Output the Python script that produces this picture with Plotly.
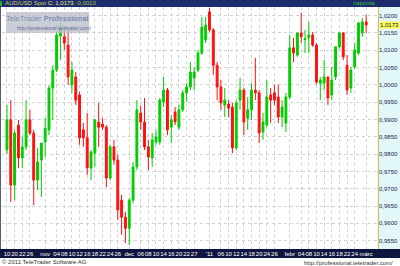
import plotly.graph_objects as go

# ---- data (AUD/USD daily, index = trading day) ----
open_ = [0.9812,0.9899,0.9711,0.9884,0.9789,0.9821,0.9899,0.9861,0.9725,0.9783,
         0.9835,0.9870,0.9991,1.0043,1.0141,1.0139,1.0115,1.0000,1.0023,0.9971,
         0.9870,0.9847,0.9760,0.9803,0.9893,0.9887,0.9878,0.9731,0.9821,0.9783,
         0.9667,0.9618,0.9586,0.9667,0.9763,0.9919,0.9893,0.9821,0.9789,0.9835,
         0.9835,0.9951,0.9985,0.9878,0.9922,0.9878,0.9928,0.9977,0.9994,1.0020,
         1.0043,1.0092,1.0130,1.0211,1.0159,1.0057,0.9994,0.9942,0.9945,0.9936,
         0.9818,0.9956,0.9985,0.9904,0.9928,0.9985,0.9977,0.9864,0.9884,0.9971,
         0.9977,0.9965,0.9907,0.9890,0.9965,1.0107,1.0086,1.0150,1.0131,1.0136,
         1.0144,1.0115,1.0005,1.0005,1.0023,0.9971,1.0023,1.0110,1.0150,1.0057,
         0.9991,1.0052,1.0092,1.0150,1.0182]
high = [0.9942,0.9956,0.9870,0.9899,0.9850,0.9956,0.9928,0.9870,0.9818,0.9832,
        0.9904,1.0000,1.0057,1.0153,1.0182,1.0159,1.0159,1.0066,1.0037,0.9980,
        0.9890,0.9919,0.9812,0.9899,0.9948,0.9904,0.9884,0.9827,0.9841,0.9798,
        0.9682,0.9633,0.9673,0.9777,0.9956,0.9939,0.9962,0.9841,0.9861,0.9870,
        0.9962,1.0023,0.9991,0.9913,0.9936,0.9942,0.9985,1.0005,1.0066,1.0052,
        1.0101,1.0196,1.0196,1.0222,1.0164,1.0066,1.0014,0.9991,0.9956,0.9948,
        0.9956,1.0020,0.9991,0.9965,1.0005,1.0078,0.9985,0.9919,1.0014,0.9991,
        1.0000,1.0000,0.9956,0.9977,1.0144,1.0136,1.0150,1.0208,1.0159,1.0182,
        1.0153,1.0121,1.0023,1.0072,1.0023,1.0052,1.0110,1.0153,1.0153,1.0086,
        1.0052,1.0121,1.0182,1.0193,1.0202]
low = [0.9800,0.9662,0.9667,0.9760,0.9760,0.9812,0.9855,0.9653,0.9696,0.9676,
       0.9792,0.9855,0.9899,1.0037,1.0072,1.0101,1.0000,0.9977,0.9942,0.9827,
       0.9821,0.9740,0.9725,0.9763,0.9821,0.9870,0.9705,0.9725,0.9769,0.9610,
       0.9567,0.9543,0.9537,0.9659,0.9754,0.9870,0.9812,0.9754,0.9763,0.9827,
       0.9827,0.9936,0.9855,0.9832,0.9884,0.9870,0.9922,0.9951,0.9985,0.9985,
       1.0037,1.0086,1.0121,1.0153,1.0029,0.9956,0.9928,0.9907,0.9907,0.9803,
       0.9812,0.9928,0.9855,0.9870,0.9899,0.9956,0.9832,0.9841,0.9878,0.9890,
       0.9942,0.9890,0.9878,0.9864,0.9959,1.0066,1.0081,1.0121,1.0092,1.0092,
       1.0110,1.0003,0.9956,0.9985,0.9942,0.9956,1.0014,1.0104,1.0072,0.9971,
       0.9977,1.0046,1.0086,1.0139,1.0150]
close = [0.9899,0.9711,0.9861,0.9789,0.9821,0.9899,0.9861,0.9725,0.9777,0.9832,
         0.9875,0.9991,1.0043,1.0144,1.0164,1.0121,1.0023,1.0043,0.9956,0.9847,
         0.9847,0.9760,0.9806,0.9899,0.9878,0.9878,0.9731,0.9821,0.9783,0.9639,
         0.9618,0.9586,0.9667,0.9763,0.9928,0.9893,0.9821,0.9792,0.9841,0.9850,
         0.9956,0.9985,0.9870,0.9899,0.9893,0.9928,0.9977,0.9994,1.0037,1.0037,
         1.0092,1.0167,1.0173,1.0159,1.0057,0.9994,0.9948,0.9956,0.9933,0.9818,
         0.9948,0.9985,0.9893,0.9928,0.9985,0.9977,0.9861,0.9893,0.9965,0.9956,
         0.9956,0.9907,0.9936,0.9965,1.0107,1.0092,1.0150,1.0139,1.0134,1.0144,
         1.0115,1.0008,1.0014,1.0023,0.9962,1.0014,1.0110,1.0150,1.0081,0.9985,
         1.0043,1.0101,1.0179,1.0182,1.0173]
day_index = list(range(len(close)))

x_tick_pos = [0, 2, 4, 6, 10, 13, 15, 17, 19, 21, 23, 25, 27, 29, 32, 35, 37, 39, 41, 43,
              45, 47, 49, 53, 56, 58, 60, 62, 64, 66, 68, 70, 74, 77, 79, 81, 83, 85, 87,
              89, 91, 94]
x_tick_text = ["10", "20", "22", "26", "nov", "04", "08", "10", "12", "16", "18", "22", "24",
               "26", "dec", "06", "08", "10", "14", "16", "20", "22", "27", "'11", "06", "10",
               "12", "14", "18", "20", "24", "26", "febr", "04", "08", "10", "14", "16", "18",
               "22", "24", "márc"]
y_tick_vals = [0.955, 0.960, 0.965, 0.970, 0.975, 0.980, 0.985, 0.990, 0.995,
               1.000, 1.005, 1.010, 1.015, 1.020]
y_tick_text = ["0,9550", "0,9600", "0,9650", "0,9700", "0,9750", "0,9800", "0,9850",
               "0,9900", "0,9950", "1,0000", "1,0050", "1,0100", "1,0150", "1,0200"]
last_price = 1.0173

FONT = "Liberation Sans"
GREEN = "#00cc00"
RED = "#ff1010"

fig = go.Figure(go.Candlestick(
    x=day_index, open=open_, high=high, low=low, close=close,
    increasing=dict(line=dict(color=GREEN, width=1), fillcolor=GREEN),
    decreasing=dict(line=dict(color=RED, width=1), fillcolor=RED),
    whiskerwidth=0, showlegend=False, hoverinfo="skip"))

fig.update_layout(
    width=400, height=266,
    margin=dict(l=2, r=19, t=7, b=17),
    paper_bgcolor="white", plot_bgcolor="white",
    font=dict(family=FONT, size=6, color="#101040"),
    showlegend=False,
    xaxis=dict(range=[-1.3, 97.1], rangeslider=dict(visible=False),
               tickmode="array", tickvals=x_tick_pos, ticktext=x_tick_text,
               tickangle=0,
               tickfont=dict(color="white", size=6, family=FONT),
               showgrid=True, gridcolor="#d2d2d2", griddash="dot", gridwidth=1,
               ticks="", zeroline=False, showline=False, fixedrange=True),
    yaxis=dict(range=[0.9526, 1.0225], side="right",
               tickmode="array", tickvals=y_tick_vals, ticktext=y_tick_text,
               tickfont=dict(color="#1a1a50", size=6, family=FONT),
               showgrid=True, gridcolor="#d2d2d2", griddash="dot", gridwidth=1,
               ticks="", zeroline=False, showline=False),
)

# right axis panel, title bar, bottom bar
fig.add_shape(type="rect", xref="paper", yref="paper", x0=1, x1=1.06, y0=0, y1=1,
              fillcolor="#e2f8f8", line_width=0, layer="below")
fig.add_shape(type="line", xref="paper", yref="paper", x0=1.001, x1=1.001, y0=0, y1=1,
              line=dict(color="#c8b450", width=1))
fig.add_shape(type="line", xref="paper", yref="paper", x0=-0.004, x1=-0.004, y0=0, y1=1,
              line=dict(color="#5a5a78", width=1))
fig.add_shape(type="rect", xref="paper", yref="paper", x0=-0.01, x1=1.06, y0=1, y1=1.04,
              fillcolor="#1c2c6c", line_width=0, layer="below")
fig.add_shape(type="rect", xref="paper", yref="paper", x0=-0.01, x1=1.06, y0=-0.037, y1=0,
              fillcolor="#0e1640", line_width=0, layer="below")
fig.add_shape(type="rect", xref="paper", yref="paper", x0=-0.005, x1=0.0, y0=1.004, y1=1.024,
              fillcolor="#20c020", line_width=0)
# watermark box
fig.add_shape(type="rect", xref="paper", yref="paper", x0=0.0106, x1=0.232, y0=0.893, y1=0.979,
              fillcolor="rgba(188,192,204,0.78)", line_width=0, layer="above")

fig.add_annotation(xref="paper", yref="paper", x=0.003, y=1.0145, xanchor="left", yanchor="middle",
                   text="<span style='color:#d8d060'>AUD/USD Spot</span> "
                        "<span style='color:#f0f080'>C: 1,0173</span> "
                        "<span style='color:#a8c040'>-0,0010</span>",
                   showarrow=False, font=dict(size=6, family=FONT))
fig.add_annotation(xref="paper", yref="paper", x=0.997, y=1.0145, xanchor="right", yanchor="middle",
                   text="naponta", showarrow=False, font=dict(size=6, color="#30c030", family=FONT))
fig.add_annotation(xref="paper", y=last_price, yref="y", x=1.003, xanchor="left", yanchor="middle",
                   text="1,0173", showarrow=False, bgcolor="#ffff50",
                   borderpad=0, font=dict(size=6, color="#101040", family=FONT))
fig.add_annotation(xref="paper", yref="paper", x=0.122, y=0.952, xanchor="center", yanchor="middle",
                   text="TeleTrader <b>Professional</b>", showarrow=False,
                   font=dict(size=7.5, color="#7d8cb2", family=FONT))
fig.add_annotation(xref="paper", yref="paper", x=0.14, y=0.913, xanchor="center", yanchor="middle",
                   text="http://professional.teletrader.com/", showarrow=False,
                   font=dict(size=5, color="#5a6890", family=FONT))
fig.add_annotation(xref="paper", yref="paper", x=-0.004, y=-0.054, xanchor="left", yanchor="middle",
                   text="© 2011 TeleTrader Software AG", showarrow=False,
                   font=dict(size=6, color="#303030", family=FONT))
fig.add_annotation(xref="paper", yref="paper", x=1.045, y=-0.058, xanchor="right", yanchor="middle",
                   text="http://professional.teletrader.com/", showarrow=False,
                   font=dict(size=6, color="#303030", family=FONT))

fig.write_html("out.html")
